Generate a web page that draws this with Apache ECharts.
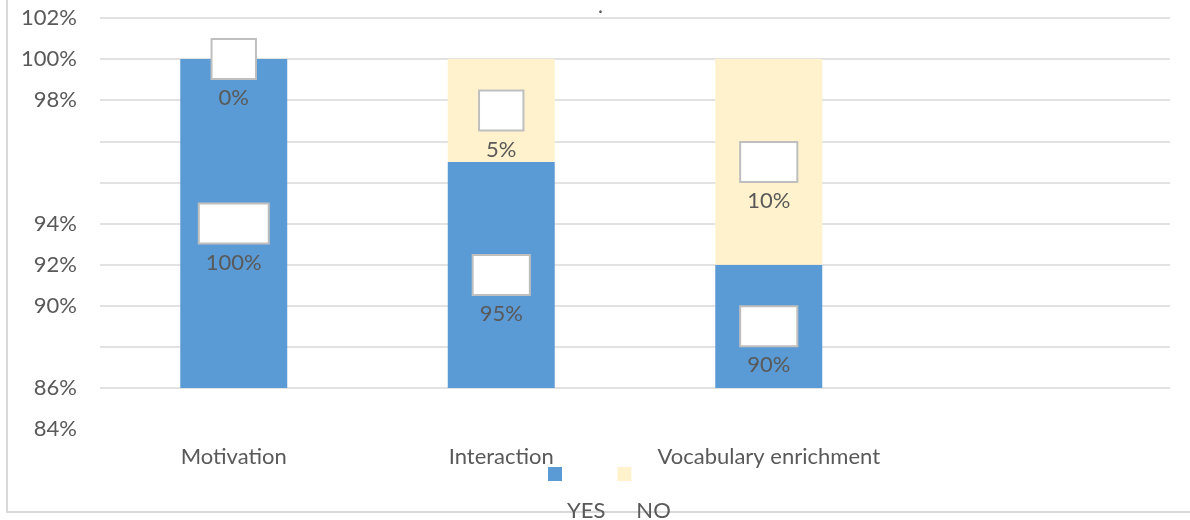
<!DOCTYPE html>
<html>
<head>
<meta charset="utf-8">
<script src="https://cdn.jsdelivr.net/npm/echarts@6/dist/echarts.min.js"></script>
<style>
  html, body { margin: 0; padding: 0; background: #ffffff; }
  #chart { width: 1190px; height: 520px; }
</style>
</head>
<body>
<div id="chart"></div>
<script>
// Survey answers per item (percent of respondents)
const categories = ['Motivation', 'Interaction', 'Vocabulary enrichment', ''];
const yesValues = [100, 95, 90];
const noValues = [0, 5, 10];
// Value-axis tick texts, one per tick from 82 up to 102 in steps of 2
const tickStart = 82;
const tickStep = 2;
const yTickLabels = ['84%', '86%', '', '90%', '92%', '94%', '', '', '98%', '100%', '102%'];

const FONT = 'Lato';
const TEXT = '#595959';
const GRID = '#d9d9d9';
const FS = 22;

// Each value label: an outlined white callout box on the bar centre, value text beneath it
const valueLabel = {
  show: true,
  position: 'inside',
  offset: [0, 29],
  formatter: p => `{box|${p.value}%}\n{val|${p.value}%}`,
  rich: {
    box: {
      color: 'rgba(0,0,0,0)',
      backgroundColor: '#ffffff',
      borderColor: '#bfbfbf',
      borderWidth: 2,
      padding: [8, 6, 8, 6],
      fontFamily: FONT,
      fontSize: FS,
      lineHeight: 20
    },
    val: {
      color: TEXT,
      fontFamily: FONT,
      fontSize: FS,
      lineHeight: 58
    }
  }
};

const chart = echarts.init(document.getElementById('chart'), null, { renderer: 'canvas' });
chart.setOption({
  animation: false,
  backgroundColor: '#ffffff',
  textStyle: { fontFamily: FONT },
  title: {
    text: '.',
    left: 598,
    top: -4,
    padding: 0,
    textStyle: { color: TEXT, fontFamily: FONT, fontSize: 21, fontWeight: 'normal' }
  },
  graphic: [{
    type: 'rect',
    silent: true,
    z: -10,
    shape: { x: 7, y: -10, width: 1200, height: 522 },
    style: { fill: 'none', stroke: GRID, lineWidth: 2 }
  }],
  legend: {
    left: 548,
    top: 426,
    padding: 0,
    itemWidth: 14,
    itemHeight: 14,
    itemGap: 12,
    icon: 'rect',
    formatter: name => `{n|${name}}`,
    textStyle: {
      color: TEXT,
      fontFamily: FONT,
      fontSize: FS,
      rich: {
        n: { color: TEXT, fontFamily: FONT, fontSize: FS, lineHeight: 22, padding: [74, 0, 0, 0] }
      }
    },
    data: ['YES', 'NO']
  },
  grid: [
    { left: 100, right: 20, top: 18, height: 370 },
    { left: 100, right: 20, top: 18, height: 411 }
  ],
  xAxis: [
    {
      type: 'category',
      gridIndex: 0,
      data: categories,
      axisLine: { show: false },
      axisTick: { show: false },
      axisLabel: { color: TEXT, fontFamily: FONT, fontSize: FS, margin: 58, interval: 0 }
    },
    { type: 'value', gridIndex: 1, show: false, min: 0, max: 1 }
  ],
  yAxis: [
    {
      type: 'value',
      gridIndex: 0,
      min: 84,
      max: 102,
      interval: 2,
      axisLine: { show: false },
      axisTick: { show: false },
      axisLabel: { show: false },
      splitLine: { show: true, lineStyle: { color: GRID, width: 1.5 } }
    },
    {
      type: 'value',
      gridIndex: 1,
      min: tickStart,
      max: 102,
      interval: tickStep,
      axisLine: { show: false },
      axisTick: { show: false },
      splitLine: { show: false },
      axisLabel: {
        color: TEXT,
        fontFamily: FONT,
        fontSize: FS,
        margin: 23,
        formatter: v => yTickLabels[Math.round((v - tickStart) / tickStep)]
      }
    }
  ],
  series: [
    {
      name: 'YES',
      type: 'bar',
      stack: 'answers',
      xAxisIndex: 0,
      yAxisIndex: 0,
      barWidth: '40%',
      itemStyle: { color: '#5b9bd5' },
      label: valueLabel,
      data: yesValues
    },
    {
      name: 'NO',
      type: 'bar',
      stack: 'answers',
      xAxisIndex: 0,
      yAxisIndex: 0,
      barWidth: '40%',
      itemStyle: { color: '#fff2cc' },
      label: valueLabel,
      data: noValues
    }
  ]
});
</script>
</body>
</html>
